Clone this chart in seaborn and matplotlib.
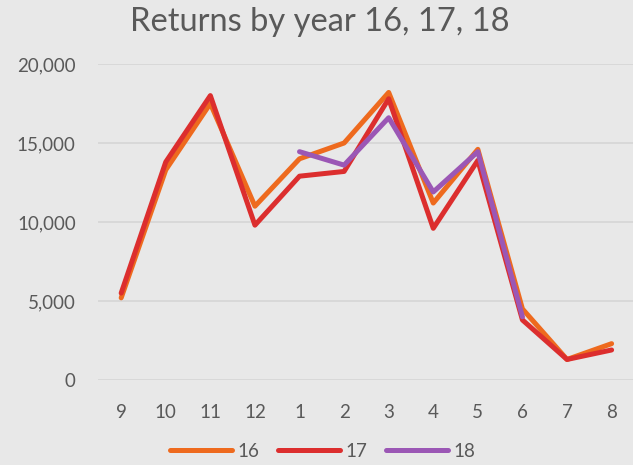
import pandas as pd
import matplotlib.pyplot as plt
import seaborn as sns

months = ["9", "10", "11", "12", "1", "2", "3", "4", "5", "6", "7", "8"]
y16 = [5200, 13300, 17500, 11000, 14000, 15000, 18200, 11200, 14600, 4500, 1300, 2300]
y17 = [5500, 13800, 18000, 9800, 12900, 13200, 17800, 9600, 13900, 3800, 1300, 1900]
y18 = [None, None, None, None, 14450, 13600, 16600, 11900, 14450, 4000, None, None]
series = ["16", "17", "18"]
colors = ["#EE6A1E", "#DC2E2E", "#9B57B5"]

rows = []
for name, vals in zip(series, [y16, y17, y18]):
    for m, v in zip(months, vals):
        if v is not None:
            rows.append({"month": m, "returns": v, "year": name})
df = pd.DataFrame(rows)

sns.set_style("white")
plt.rcParams["font.family"] = ["Lato", "DejaVu Sans"]
bg = "#E8E8E8"
text_color = "#595959"

fig = plt.figure(figsize=(6.33, 4.65), dpi=100, facecolor=bg)
ax = fig.add_axes([98 / 633, 1 - 380 / 465, 535 / 633, 316 / 465])
ax.set_facecolor(bg)

sns.lineplot(data=df, x="month", y="returns", hue="year", palette=colors,
             sort=False, linewidth=3.6, ax=ax, legend=False)

ax.set_xlim(-0.52, 11.48)
ax.set_ylim(0, 20000)
ax.set_yticks([0, 5000, 10000, 15000, 20000])
ax.set_yticklabels(["0", "5,000", "10,000", "15,000", "20,000"])
ax.yaxis.grid(True, color="#D5D5D5", linewidth=1.2)
ax.set_axisbelow(True)
for s in ax.spines.values():
    s.set_visible(False)
ax.tick_params(axis="both", length=0, labelsize=13.5, colors=text_color)
ax.tick_params(axis="y", pad=16)
ax.tick_params(axis="x", pad=17)
ax.set_xlabel("")
ax.set_ylabel("")

fig.text(0.505, 1 - 22 / 465, "Returns by year 16, 17, 18", ha="center", va="center",
         fontsize=23.5, color=text_color)

handles = [plt.Line2D([0], [0], color=c, linewidth=3.6, solid_capstyle="round") for c in colors]
fig.legend(handles, series, loc="center", bbox_to_anchor=(0.51, 1 - 451 / 465), ncol=3,
           frameon=False, fontsize=13.5, labelcolor=text_color, handlelength=3.3,
           columnspacing=1.0, handletextpad=0.3)

fig.savefig("out.png", dpi=100, facecolor=bg)
